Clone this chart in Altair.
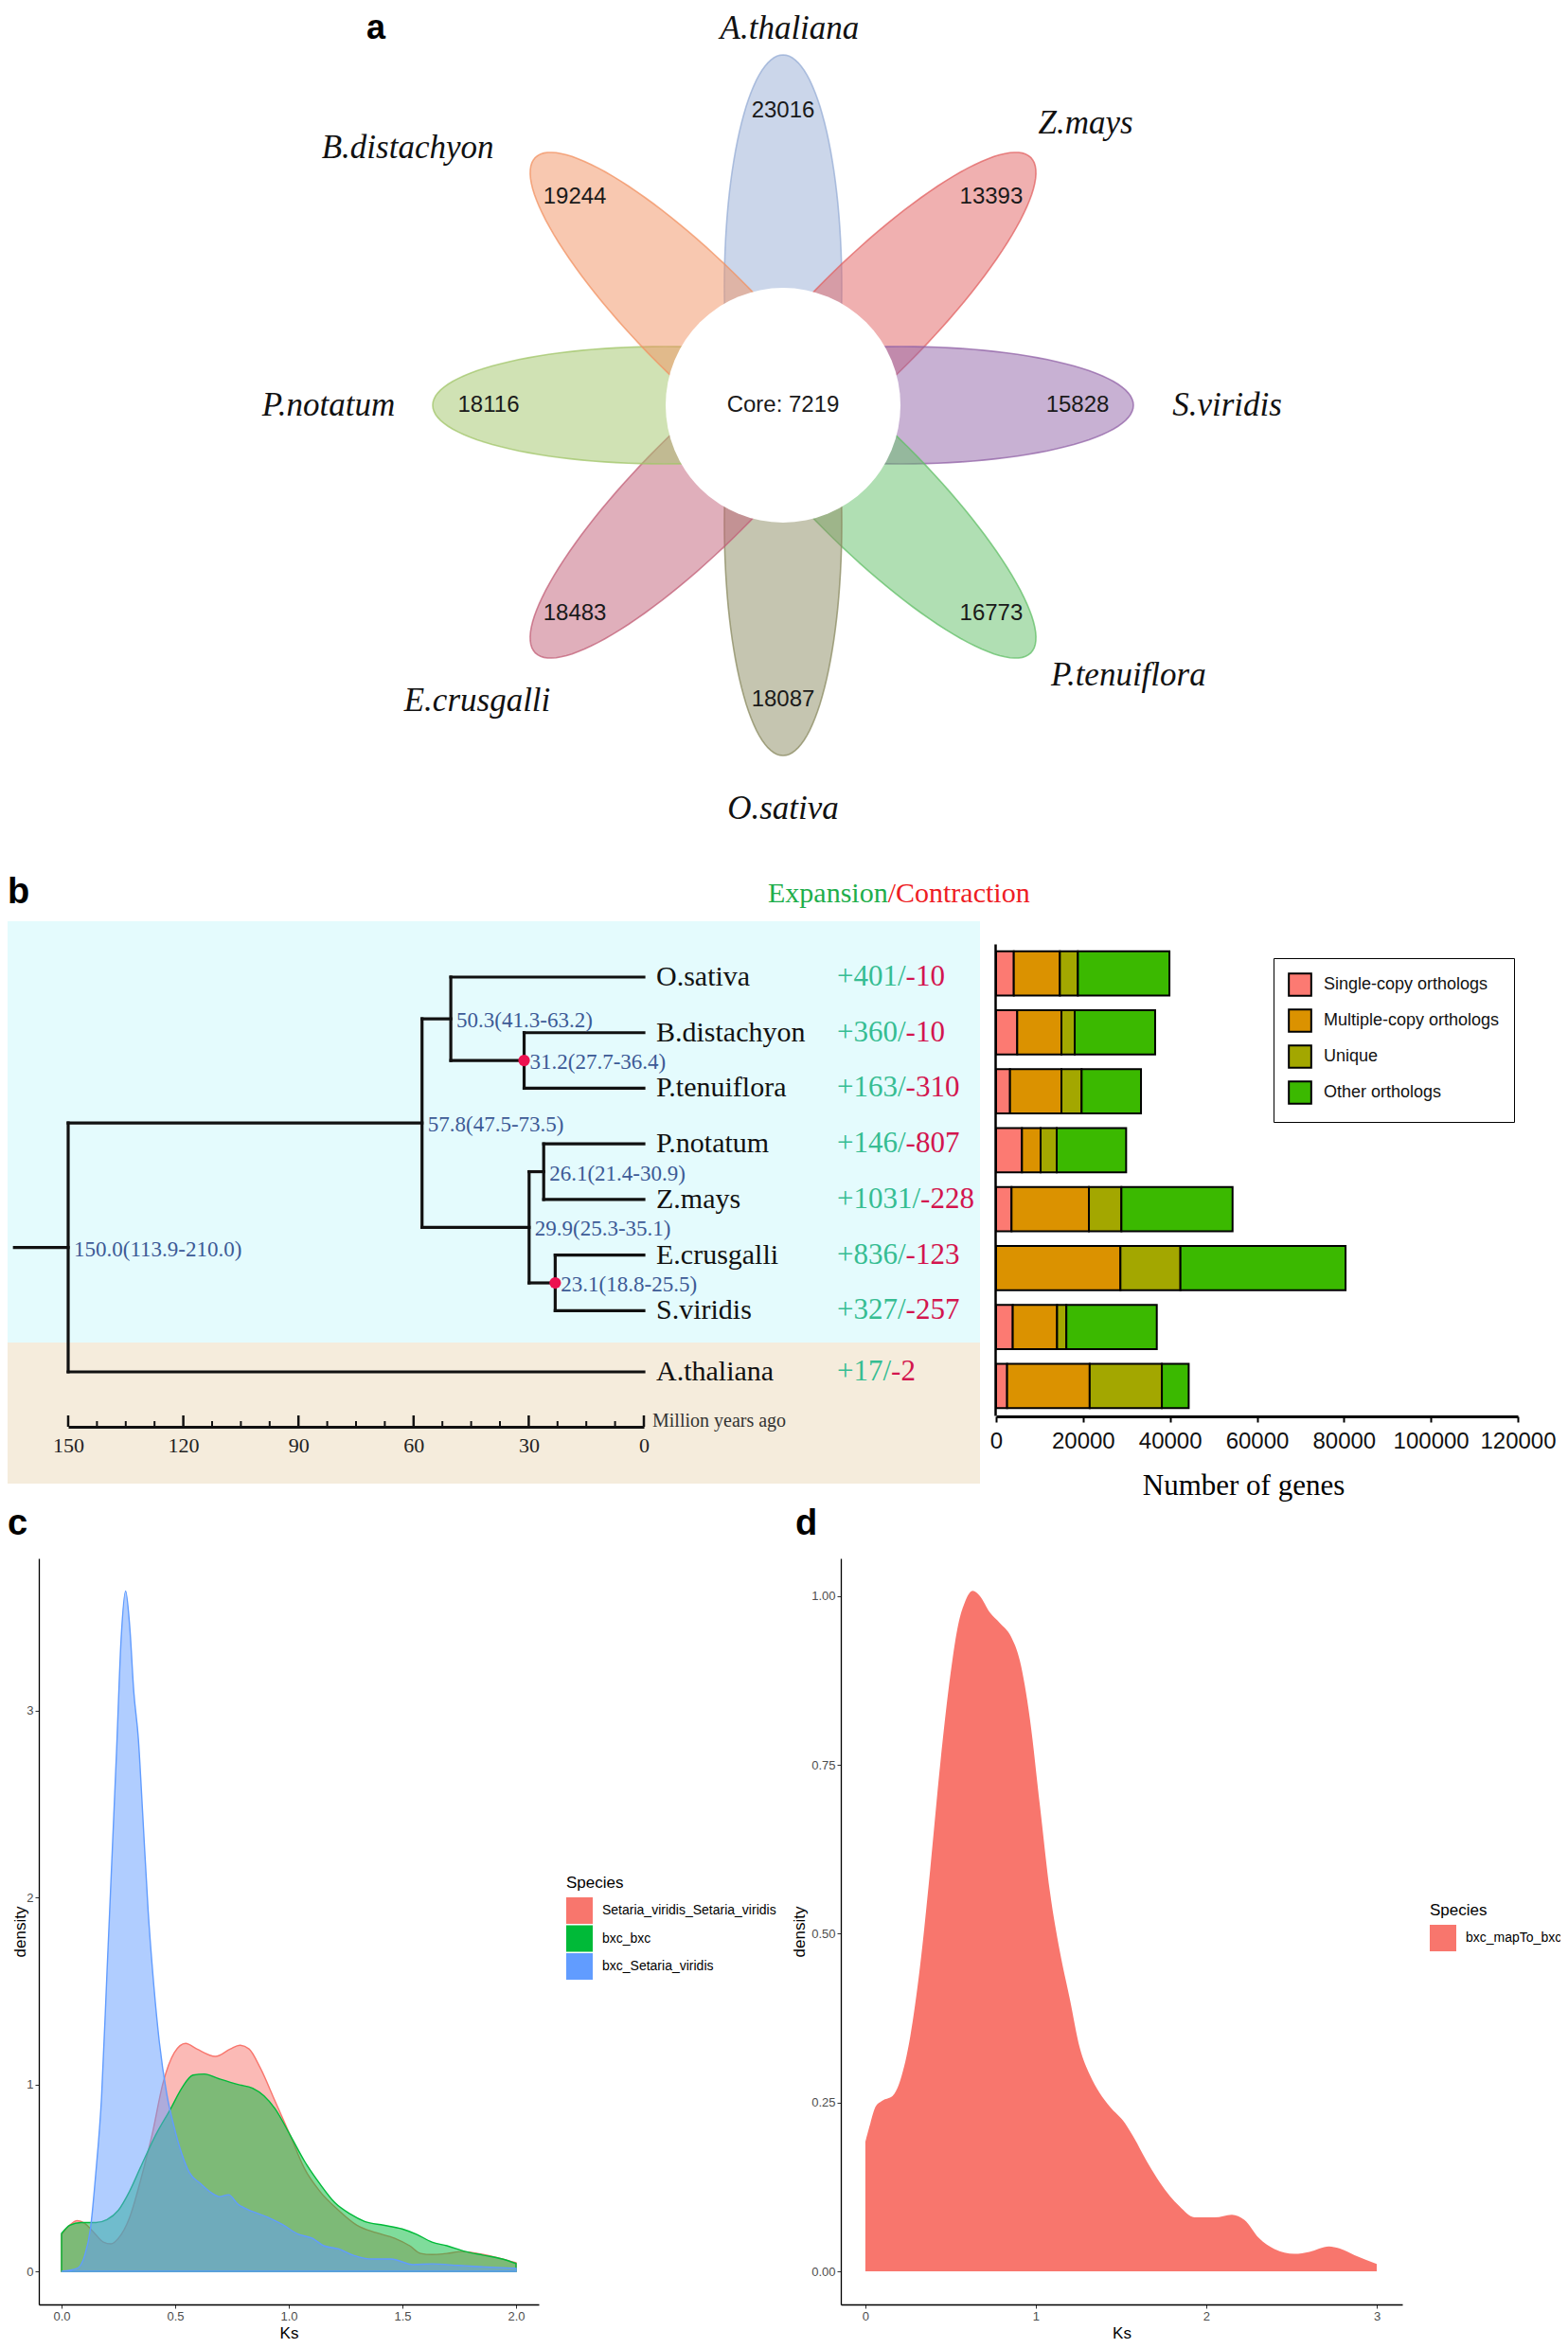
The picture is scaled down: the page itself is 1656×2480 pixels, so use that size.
import altair as alt
import numpy as np
import pandas as pd

# =================== data ===================
# (a) flower Venn: unique gene families per species + core
petal_species = ["A.thaliana", "Z.mays", "S.viridis", "P.tenuiflora",
                 "O.sativa", "E.crusgalli", "P.notatum", "B.distachyon"]
petal_counts = [23016, 13393, 15828, 16773, 18087, 18483, 18116, 19244]
core_count = 7219

# (b) species tree, expansion / contraction, ortholog composition
tree_species = ["O.sativa", "B.distachyon", "P.tenuiflora", "P.notatum",
                "Z.mays", "E.crusgalli", "S.viridis", "A.thaliana"]
expansion = [401, 360, 163, 146, 1031, 836, 327, 17]
contraction = [10, 10, 310, 807, 228, 123, 257, 2]
node_ids = ["n1", "n2", "n3", "n4", "n5", "n6", "root"]
node_ages = [31.2, 50.3, 26.1, 23.1, 29.9, 57.8, 150.0]
node_ci = ["27.7-36.4", "41.3-63.2", "21.4-30.9", "18.8-25.5",
           "25.3-35.1", "47.5-73.5", "113.9-210.0"]
node_children = [["B.distachyon", "P.tenuiflora"], ["O.sativa", "n1"],
                 ["P.notatum", "Z.mays"], ["E.crusgalli", "S.viridis"],
                 ["n3", "n4"], ["n2", "n5"], ["n6", "A.thaliana"]]
calibrated = ["n1", "n4"]
time_labels = [150, 120, 90, 60, 30, 0]

ortho_cats = ["Single-copy orthologs", "Multiple-copy orthologs", "Unique", "Other orthologs"]
single_copy = [4070, 4860, 3200, 5950, 3550, 0, 3830, 2530]
multi_copy = [10600, 10170, 11830, 4290, 17800, 28600, 10200, 19000]
unique_genes = [4140, 3050, 4640, 3700, 7470, 13800, 2130, 16600]
other_orthologs = [21060, 18500, 13660, 15970, 25570, 37980, 20800, 6170]
gene_ticks = [0, 20000, 40000, 60000, 80000, 100000, 120000]

# (c) Ks density, three comparisons
c_species = ["Setaria_viridis_Setaria_viridis", "bxc_bxc", "bxc_Setaria_viridis"]
ks_red = [0, 0.036, 0.069, 0.102, 0.143, 0.184, 0.217, 0.25, 0.299, 0.348, 0.398, 0.447,
          0.496, 0.546, 0.595, 0.677, 0.743, 0.784, 0.825, 0.874, 0.94, 1.006, 1.07, 1.137,
          1.219, 1.30, 1.384, 1.466, 1.532, 1.58, 1.63, 1.696, 1.762, 1.83, 1.91, 2.0]
dens_red = [0.197, 0.247, 0.271, 0.257, 0.207, 0.157, 0.147, 0.177, 0.287, 0.488, 0.729, 1.01,
            1.17, 1.22, 1.19, 1.15, 1.19, 1.21, 1.19, 1.09, 0.91, 0.729, 0.548, 0.428,
            0.327, 0.247, 0.207, 0.177, 0.137, 0.096, 0.09, 0.096, 0.106, 0.096, 0.076, 0.046]
ks_green = [0, 0.036, 0.085, 0.151, 0.2, 0.25, 0.299, 0.348, 0.414, 0.48, 0.529, 0.578, 0.628,
            0.694, 0.776, 0.841, 0.89, 0.94, 1.006, 1.07, 1.137, 1.203, 1.27, 1.334, 1.417,
            1.499, 1.564, 1.63, 1.696, 1.778, 1.86, 1.94, 2.0]
dens_green = [0.203, 0.247, 0.261, 0.261, 0.277, 0.327, 0.428, 0.558, 0.729, 0.87, 0.98, 1.05,
              1.056, 1.03, 1.0, 0.98, 0.94, 0.87, 0.729, 0.588, 0.468, 0.367, 0.307, 0.267,
              0.247, 0.227, 0.197, 0.157, 0.137, 0.106, 0.086, 0.066, 0.042]
ks_blue = [0, 0.069, 0.102, 0.127, 0.151, 0.176, 0.2, 0.225, 0.242, 0.262, 0.282, 0.30, 0.318,
           0.338, 0.357, 0.381, 0.406, 0.43, 0.463, 0.496, 0.529, 0.562, 0.611, 0.66, 0.694,
           0.735, 0.776, 0.841, 0.907, 0.973, 1.04, 1.104, 1.154, 1.22, 1.285, 1.367, 1.45,
           1.548, 1.63, 1.745, 1.83, 2.0]
dens_blue = [0, 0.016, 0.086, 0.227, 0.528, 0.93, 1.6, 2.3, 2.78, 3.38, 3.64, 3.45, 3.1,
             2.85, 2.45, 1.93, 1.53, 1.23, 0.95, 0.77, 0.63, 0.53, 0.47, 0.42, 0.40,
             0.41, 0.36, 0.32, 0.29, 0.25, 0.20, 0.177, 0.137, 0.12, 0.086, 0.066, 0.066,
             0.036, 0.04, 0.032, 0.026, 0.016]

# (d) Ks density, bxc mapped to bxc
d_species = ["bxc_mapTo_bxc"]
ks_d = [0, 0.03, 0.06, 0.10, 0.16, 0.205, 0.263, 0.32, 0.38, 0.44, 0.497, 0.54, 0.585, 0.63,
        0.673, 0.73, 0.79, 0.855, 0.907, 0.966, 1.024, 1.083, 1.14, 1.2, 1.258, 1.317, 1.375,
        1.434, 1.522, 1.58, 1.64, 1.727, 1.844, 1.93, 2.05, 2.15, 2.224, 2.31, 2.4, 2.517,
        2.605, 2.72, 2.78, 2.87, 3.0]
dens_d = [0.192, 0.22, 0.244, 0.253, 0.26, 0.283, 0.347, 0.45, 0.594, 0.753, 0.88, 0.952,
          0.992, 1.008, 1.0, 0.976, 0.96, 0.94, 0.904, 0.817, 0.69, 0.562, 0.475, 0.403,
          0.331, 0.291, 0.264, 0.244, 0.22, 0.196, 0.168, 0.132, 0.096, 0.08, 0.08, 0.084,
          0.076, 0.049, 0.033, 0.026, 0.029, 0.037, 0.034, 0.024, 0.011]

# =================== layout & style ===================
W, H = 1640, 2464
M = 8                      # page margin: canvas px = reference px - M


def cv(v):
    return v - M


def fixed(domain, rng, **kw):
    return alt.Scale(domain=domain, range=rng, nice=False, zero=False, **kw)


SERIF = "Liberation Serif"
SANS = "Liberation Sans"
one_row = pd.DataFrame({"k": [0]})
layers = []

# ---------- panel backgrounds (b) ----------
layers.append(alt.Chart(one_row).mark_rect(color="#e4fbfd").encode(
    x=alt.value(0), x2=alt.value(cv(1035)), y=alt.value(cv(973)), y2=alt.value(cv(1418))))
layers.append(alt.Chart(one_row).mark_rect(color="#f5ecdc").encode(
    x=alt.value(0), x2=alt.value(cv(1035)), y=alt.value(cv(1418)), y2=alt.value(cv(1567))))

# ---------- panel letters ----------
for t, lx, ly, fs in [("a", 387, 41, 36), ("b", 8, 954, 38), ("c", 8, 1621, 38),
                      ("d", 840, 1621, 38)]:
    layers.append(alt.Chart(one_row).mark_text(
        text=t, font=SANS, fontSize=fs, fontWeight="bold", align="left",
        baseline="alphabetic", color="black").encode(x=alt.value(cv(lx)), y=alt.value(cv(ly))))

# ---------- (a) flower Venn ----------
FX, FY = 827, 428
PET_A, PET_B, PET_OFF = 245, 62, 125
NUM_R, CORE_R = 311, 124
petal_dir = [90, 45, 0, -45, -90, -135, 180, 135]
petal_colors = ["#97add5", "#e16161", "#9163a7", "#61bf67",
                "#8b8b61", "#c15f77", "#a1c569", "#f19161"]
name_r = [398, 437, 469, 463, 426, 449, 480, 481]
name_dir = [89, 43, 0, -38, -90, -136, 180, 145.5]

th = np.radians(petal_dir)
nth = np.radians(name_dir)
petals = pd.DataFrame({
    "species": petal_species, "count": petal_counts, "color": petal_colors,
    "px": PET_OFF * np.cos(th), "py": PET_OFF * np.sin(th),
    "rot": np.mod(-np.array(petal_dir, dtype=float), 360),
    "nx": NUM_R * np.cos(th), "ny": NUM_R * np.sin(th),
    "lx": np.array(name_r) * np.cos(nth), "ly": np.array(name_r) * np.sin(nth),
})
xa = fixed([M - FX, W + M - FX], [0, W])
ya = fixed([FY - M - H, FY - M], [H, 0])
tt = np.linspace(0, 2 * np.pi, 120, endpoint=False)
ELLIPSE = "M" + "L".join(f"{np.cos(a):.4f},{(PET_B / PET_A) * np.sin(a):.4f}" for a in tt) + "Z"

petal_layer = alt.Chart(petals).mark_point(
    shape=ELLIPSE, size=(2 * PET_A) ** 2, filled=True, opacity=1,
    fillOpacity=0.5, strokeOpacity=0.75, strokeWidth=1.6).encode(
    x=alt.X("px:Q", scale=xa, axis=None), y=alt.Y("py:Q", scale=ya, axis=None),
    angle=alt.Angle("rot:Q", scale=None),
    fill=alt.Fill("color:N", scale=None), stroke=alt.Stroke("color:N", scale=None))
core_df = pd.DataFrame({"x": [0.0], "y": [0.0], "label": [f"Core: {core_count}"]})
core_layer = alt.Chart(core_df).mark_point(
    shape="circle", size=(2 * CORE_R) ** 2, filled=True, color="white", opacity=1).encode(
    x=alt.X("x:Q", scale=xa, axis=None), y=alt.Y("y:Q", scale=ya, axis=None))
core_text = alt.Chart(core_df).mark_text(font=SANS, fontSize=24, color="#1a1a1a").encode(
    x=alt.X("x:Q", scale=xa, axis=None), y=alt.Y("y:Q", scale=ya, axis=None), text="label:N")
num_text = alt.Chart(petals).mark_text(font=SANS, fontSize=24, color="#1a1a1a").encode(
    x=alt.X("nx:Q", scale=xa, axis=None), y=alt.Y("ny:Q", scale=ya, axis=None), text="count:Q")
name_text = alt.Chart(petals).mark_text(font=SERIF, fontSize=35, fontStyle="italic",
                                        color="#111").encode(
    x=alt.X("lx:Q", scale=xa, axis=None), y=alt.Y("ly:Q", scale=ya, axis=None), text="species:N")
layers.append(alt.layer(petal_layer, core_layer, core_text, num_text, name_text))

# ---------- (b) tree ----------
leaf_slot = [0, 1, 2, 3, 4, 5, 6, 7.1]
pos_y = dict(zip(tree_species, leaf_slot))
pos_age = {s: 0.0 for s in tree_species}
hrows, vrows = [], []
for n, a, ch in zip(node_ids, node_ages, node_children):
    pos_age[n] = a
    pos_y[n] = float(np.mean([pos_y[c] for c in ch]))
    for c in ch:
        hrows.append({"a1": pos_age[c], "a2": a, "y": pos_y[c]})
    vrows.append({"a": a, "y1": min(pos_y[c] for c in ch), "y2": max(pos_y[c] for c in ch)})
ROOT_STEM = 164
hrows.append({"a1": 150.0, "a2": ROOT_STEM, "y": pos_y["root"]})
hdf, vdf = pd.DataFrame(hrows), pd.DataFrame(vrows)
nodes = pd.DataFrame({"id": node_ids, "age": node_ages,
                      "y": [pos_y[n] for n in node_ids],
                      "label": [f"{a:.1f}({c})" for a, c in zip(node_ages, node_ci)]})
leaves = pd.DataFrame({"species": tree_species, "age": 0.0, "y": leaf_slot})

tx = fixed([150, 0], [cv(72), cv(680)])
ty = fixed([0, 7.1], [cv(1032), cv(1449)])
TREE_C = "#111"
h_layer = alt.Chart(hdf).mark_rule(color=TREE_C, strokeWidth=3.2, strokeCap="square").encode(
    x=alt.X("a1:Q", scale=tx, axis=None), x2="a2:Q", y=alt.Y("y:Q", scale=ty, axis=None))
v_layer = alt.Chart(vdf).mark_rule(color=TREE_C, strokeWidth=3.2, strokeCap="square").encode(
    x=alt.X("a:Q", scale=tx, axis=None), y=alt.Y("y1:Q", scale=ty, axis=None), y2="y2:Q")
dots = alt.Chart(nodes[nodes.id.isin(calibrated)]).mark_circle(
    color="#ec1250", size=150, opacity=1).encode(
    x=alt.X("age:Q", scale=tx, axis=None), y=alt.Y("y:Q", scale=ty, axis=None))
node_text = alt.Chart(nodes).mark_text(font=SERIF, fontSize=23, color="#3c5a96",
                                       align="left", dx=6, dy=2).encode(
    x=alt.X("age:Q", scale=tx, axis=None), y=alt.Y("y:Q", scale=ty, axis=None), text="label:N")
leaf_text = alt.Chart(leaves).mark_text(font=SERIF, fontSize=30, color="#111",
                                        align="left", dx=13).encode(
    x=alt.X("age:Q", scale=tx, axis=None), y=alt.Y("y:Q", scale=ty, axis=None), text="species:N")

ticks = pd.DataFrame({"age": np.arange(0, 150.01, 7.5)})
ticks["major"] = (ticks.age % 30 == 0)
minor_ticks = alt.Chart(ticks[~ticks.major]).mark_rule(color="#111", strokeWidth=2).encode(
    x=alt.X("age:Q", scale=tx, axis=None), y=alt.value(cv(1507)), y2=alt.value(cv(1501)))
major_ticks = alt.Chart(ticks[ticks.major]).mark_rule(color="#111", strokeWidth=2.5).encode(
    x=alt.X("age:Q", scale=tx, axis=None), y=alt.value(cv(1507)), y2=alt.value(cv(1495)))
mya = alt.Chart(pd.DataFrame({"age": [0.0]})).mark_text(
    text="Million years ago", font=SERIF, fontSize=20, color="#333", align="left", dx=9).encode(
    x=alt.X("age:Q", scale=tx, axis=None), y=alt.value(cv(1501)))
layers.append(alt.layer(h_layer, v_layer, dots, node_text, leaf_text,
                        minor_ticks, major_ticks, mya))

# time axis (labels + baseline), carried by an invisible top-level layer, drawn above backgrounds
time_axis = alt.Axis(orient="bottom", offset=cv(1507) - H, values=time_labels, ticks=False,
                     tickSize=0, domainWidth=3, domainColor="#111", labelFont=SERIF,
                     labelFontSize=22, labelColor="#222", labelPadding=9, labelFlush=False,
                     title=None, grid=False, zindex=1)
layers.append(alt.Chart(pd.DataFrame({"age": [0.0, 150.0]})).mark_point(opacity=0).encode(
    x=alt.X("age:Q", scale=tx, axis=time_axis), y=alt.value(cv(1500))))

# expansion / contraction numbers: green part then red part, placed in em units
EXP_FS = 31
TIMES_W = {"+": 0.564, "/": 0.278, "-": 0.333}


def em_width(s):
    return sum(TIMES_W.get(ch, 0.5) for ch in s)


exp_df = pd.DataFrame({"species": tree_species, "y": leaf_slot,
                       "g": [f"+{e}/" for e in expansion],
                       "r": [f"-{c}" for c in contraction]})
exp_df["gx"] = 0.0
exp_df["rx"] = exp_df.g.map(em_width)
ex = fixed([0, 10], [cv(884), cv(884) + 10 * EXP_FS])
ty2 = fixed([0, 7.1], [cv(1032), cv(1449)])
exp_g = alt.Chart(exp_df).mark_text(font=SERIF, fontSize=EXP_FS, color="#36bd92",
                                    align="left").encode(
    x=alt.X("gx:Q", scale=ex, axis=None), y=alt.Y("y:Q", scale=ty2, axis=None), text="g:N")
exp_r = alt.Chart(exp_df).mark_text(font=SERIF, fontSize=EXP_FS, color="#d3154e",
                                    align="left").encode(
    x=alt.X("rx:Q", scale=ex, axis=None), y=alt.Y("y:Q", scale=ty2, axis=None), text="r:N")
layers.append(alt.layer(exp_g, exp_r))

HEAD_FS = 30
head_df = pd.DataFrame({"t": ["Expansion", "/Contraction"],
                        "x": [0.0, 4.222],
                        "c": ["#1eae4b", "#ee1c24"]})
hx = fixed([0, 10], [cv(811), cv(811) + 10 * HEAD_FS])
layers.append(alt.Chart(head_df).mark_text(font=SERIF, fontSize=HEAD_FS, align="left").encode(
    x=alt.X("x:Q", scale=hx, axis=None), y=alt.value(cv(944)), text="t:N",
    color=alt.Color("c:N", scale=None)))

# ---------- (b) stacked ortholog bars ----------
brows = []
for i, sp in enumerate(tree_species):
    for k, (cat, vals) in enumerate(zip(ortho_cats, [single_copy, multi_copy,
                                                     unique_genes, other_orthologs])):
        brows.append({"species": sp, "category": cat, "genes": vals[i], "k": k})
bdf = pd.DataFrame(brows)
bar_colors = ["#fc7a72", "#db9200", "#a3a700", "#3bb900"]
bars = alt.Chart(bdf).mark_bar(stroke="black", strokeWidth=2, opacity=1).encode(
    x=alt.X("genes:Q", stack="zero",
            scale=fixed([0, 120000], [cv(1052), cv(1603)]),
            axis=alt.Axis(orient="bottom", offset=cv(1496) - H, values=gene_ticks, format="d",
                          labelFont=SANS, labelFontSize=24, labelColor="#111",
                          labelFlush=False, labelOverlap=False, labelPadding=8,
                          domainWidth=3, domainColor="black", tickColor="black",
                          tickWidth=2, tickSize=6, grid=False,
                          title="Number of genes", titleFont=SERIF, titleFontSize=31,
                          titleFontWeight="normal", titleColor="black", titlePadding=20,
                          titleX=cv(1313))),
    y=alt.Y("species:N", sort=tree_species,
            scale=alt.Scale(domain=tree_species, range=[cv(997), cv(1495)],
                            paddingInner=0.25, paddingOuter=0.125),
            axis=alt.Axis(orient="left", offset=-cv(1051), labels=False, ticks=False,
                          domainColor="black", domainWidth=2.5, title=None, grid=False)),
    color=alt.Color("category:N", scale=alt.Scale(domain=ortho_cats, range=bar_colors),
                    legend=alt.Legend(orient="none", legendX=cv(1345), legendY=cv(1012),
                                      title=None, strokeColor="black", padding=15,
                                      symbolType="square", symbolSize=560,
                                      symbolStrokeColor="black", symbolStrokeWidth=2,
                                      symbolOpacity=1, labelFont=SANS, labelFontSize=18,
                                      labelColor="#111", rowPadding=6, labelOffset=12,
                                      labelLimit=400)),
    order=alt.Order("k:Q"))
layers.append(bars)

# ---------- (c) Ks density ----------
gg_axis = dict(labelFont=SANS, labelFontSize=13, labelColor="#4d4d4d", tickColor="#333",
               tickSize=4, labelPadding=2, domainColor="black", domainWidth=1.3, grid=False,
               titleFont=SANS, titleFontSize=17, titleFontWeight="normal", titleColor="black",
               labelFlush=False)
KS_TITLE = dict(title="Ks", titleY=35, titleBaseline="alphabetic")
xc = fixed([-0.1, 2.1], [cv(41), cv(569)])
yc = fixed([-0.177, 3.815], [cv(2434), cv(1646)])
c_colors = ["#F8766D", "#00BA38", "#619CFF"]
c_scale = alt.Scale(domain=c_species, range=c_colors)
c_legend = alt.Legend(orient="none", legendX=cv(598), legendY=cv(1981), title="Species",
                      titleFont=SANS, titleFontSize=17, titleFontWeight="normal",
                      titleColor="black", titlePadding=6, symbolType="square",
                      symbolSize=784, symbolStrokeWidth=0, symbolOpacity=1,
                      labelFont=SANS, labelFontSize=14, labelColor="black", labelOffset=10,
                      rowPadding=1.5, labelLimit=400, padding=0)
c_layers = []
for i, (sp, xs, ys) in enumerate(zip(c_species, [ks_red, ks_green, ks_blue],
                                     [dens_red, dens_green, dens_blue])):
    df = pd.DataFrame({"Ks": xs, "density": ys, "Species": sp})
    c_layers.append(alt.Chart(df).mark_area(fillOpacity=0.5, stroke=c_colors[i],
                                            strokeWidth=1.4, interpolate="monotone").encode(
        x=alt.X("Ks:Q", scale=xc, axis=None),
        y=alt.Y("density:Q", stack=None, scale=yc, axis=None),
        color=alt.Color("Species:N", scale=c_scale, legend=c_legend if i == 0 else None)))
layers.append(alt.layer(*c_layers))
# axes of (c), carried by an invisible top-level layer
layers.append(alt.Chart(pd.DataFrame({"Ks": [0.0, 2.0], "density": [0.0, 3.0]})).mark_point(
    opacity=0).encode(
    x=alt.X("Ks:Q", scale=xc,
            axis=alt.Axis(orient="bottom", offset=cv(2434) - H, values=[0, 0.5, 1, 1.5, 2],
                          format=".1f", **KS_TITLE, **gg_axis)),
    y=alt.Y("density:Q", scale=yc,
            axis=alt.Axis(orient="left", offset=-cv(41), values=[0, 1, 2, 3], format="d",
                          title="density", titlePadding=-3, **gg_axis))))

# ---------- (d) Ks density ----------
xd = fixed([-0.144, 3.15], [cv(888), cv(1481)])
yd = fixed([-0.049, 1.056], [cv(2434), cv(1646)])
ddf = pd.DataFrame({"Ks": ks_d, "density": dens_d, "Species": d_species[0]})
d_layer = alt.Chart(ddf).mark_area(opacity=1, interpolate="monotone").encode(
    x=alt.X("Ks:Q", scale=xd,
            axis=alt.Axis(orient="bottom", offset=cv(2434) - H, values=[0, 1, 2, 3],
                          format="d", **KS_TITLE, **gg_axis)),
    y=alt.Y("density:Q", stack=None, scale=yd,
            axis=alt.Axis(orient="left", offset=-cv(888), values=[0, 0.25, 0.5, 0.75, 1],
                          format=".2f", title="density", titlePadding=3, **gg_axis)),
    color=alt.Color("Species:N", scale=alt.Scale(domain=d_species, range=["#F8766D"]),
                    legend=alt.Legend(orient="none", legendX=cv(1510), legendY=cv(2010),
                                      title="Species", titleFont=SANS, titleFontSize=17,
                                      titleFontWeight="normal", titleColor="black",
                                      titlePadding=6, symbolType="square", symbolSize=784,
                                      symbolStrokeWidth=0, symbolOpacity=1, labelFont=SANS,
                                      labelFontSize=14, labelColor="black", labelOffset=10,
                                      labelLimit=400, padding=0)))
layers.append(d_layer)

chart = alt.layer(*layers).resolve_scale(
    x="independent", y="independent", color="independent"
).resolve_axis(x="independent", y="independent").resolve_legend(color="independent").properties(
    width=W, height=H, padding=0, autosize=alt.AutoSizeParams(type="none")
).configure(font=SANS, background="white").configure_view(strokeWidth=0).configure_axis(grid=False)

chart.save("out.html", embed_options={"renderer": "svg", "actions": False})
